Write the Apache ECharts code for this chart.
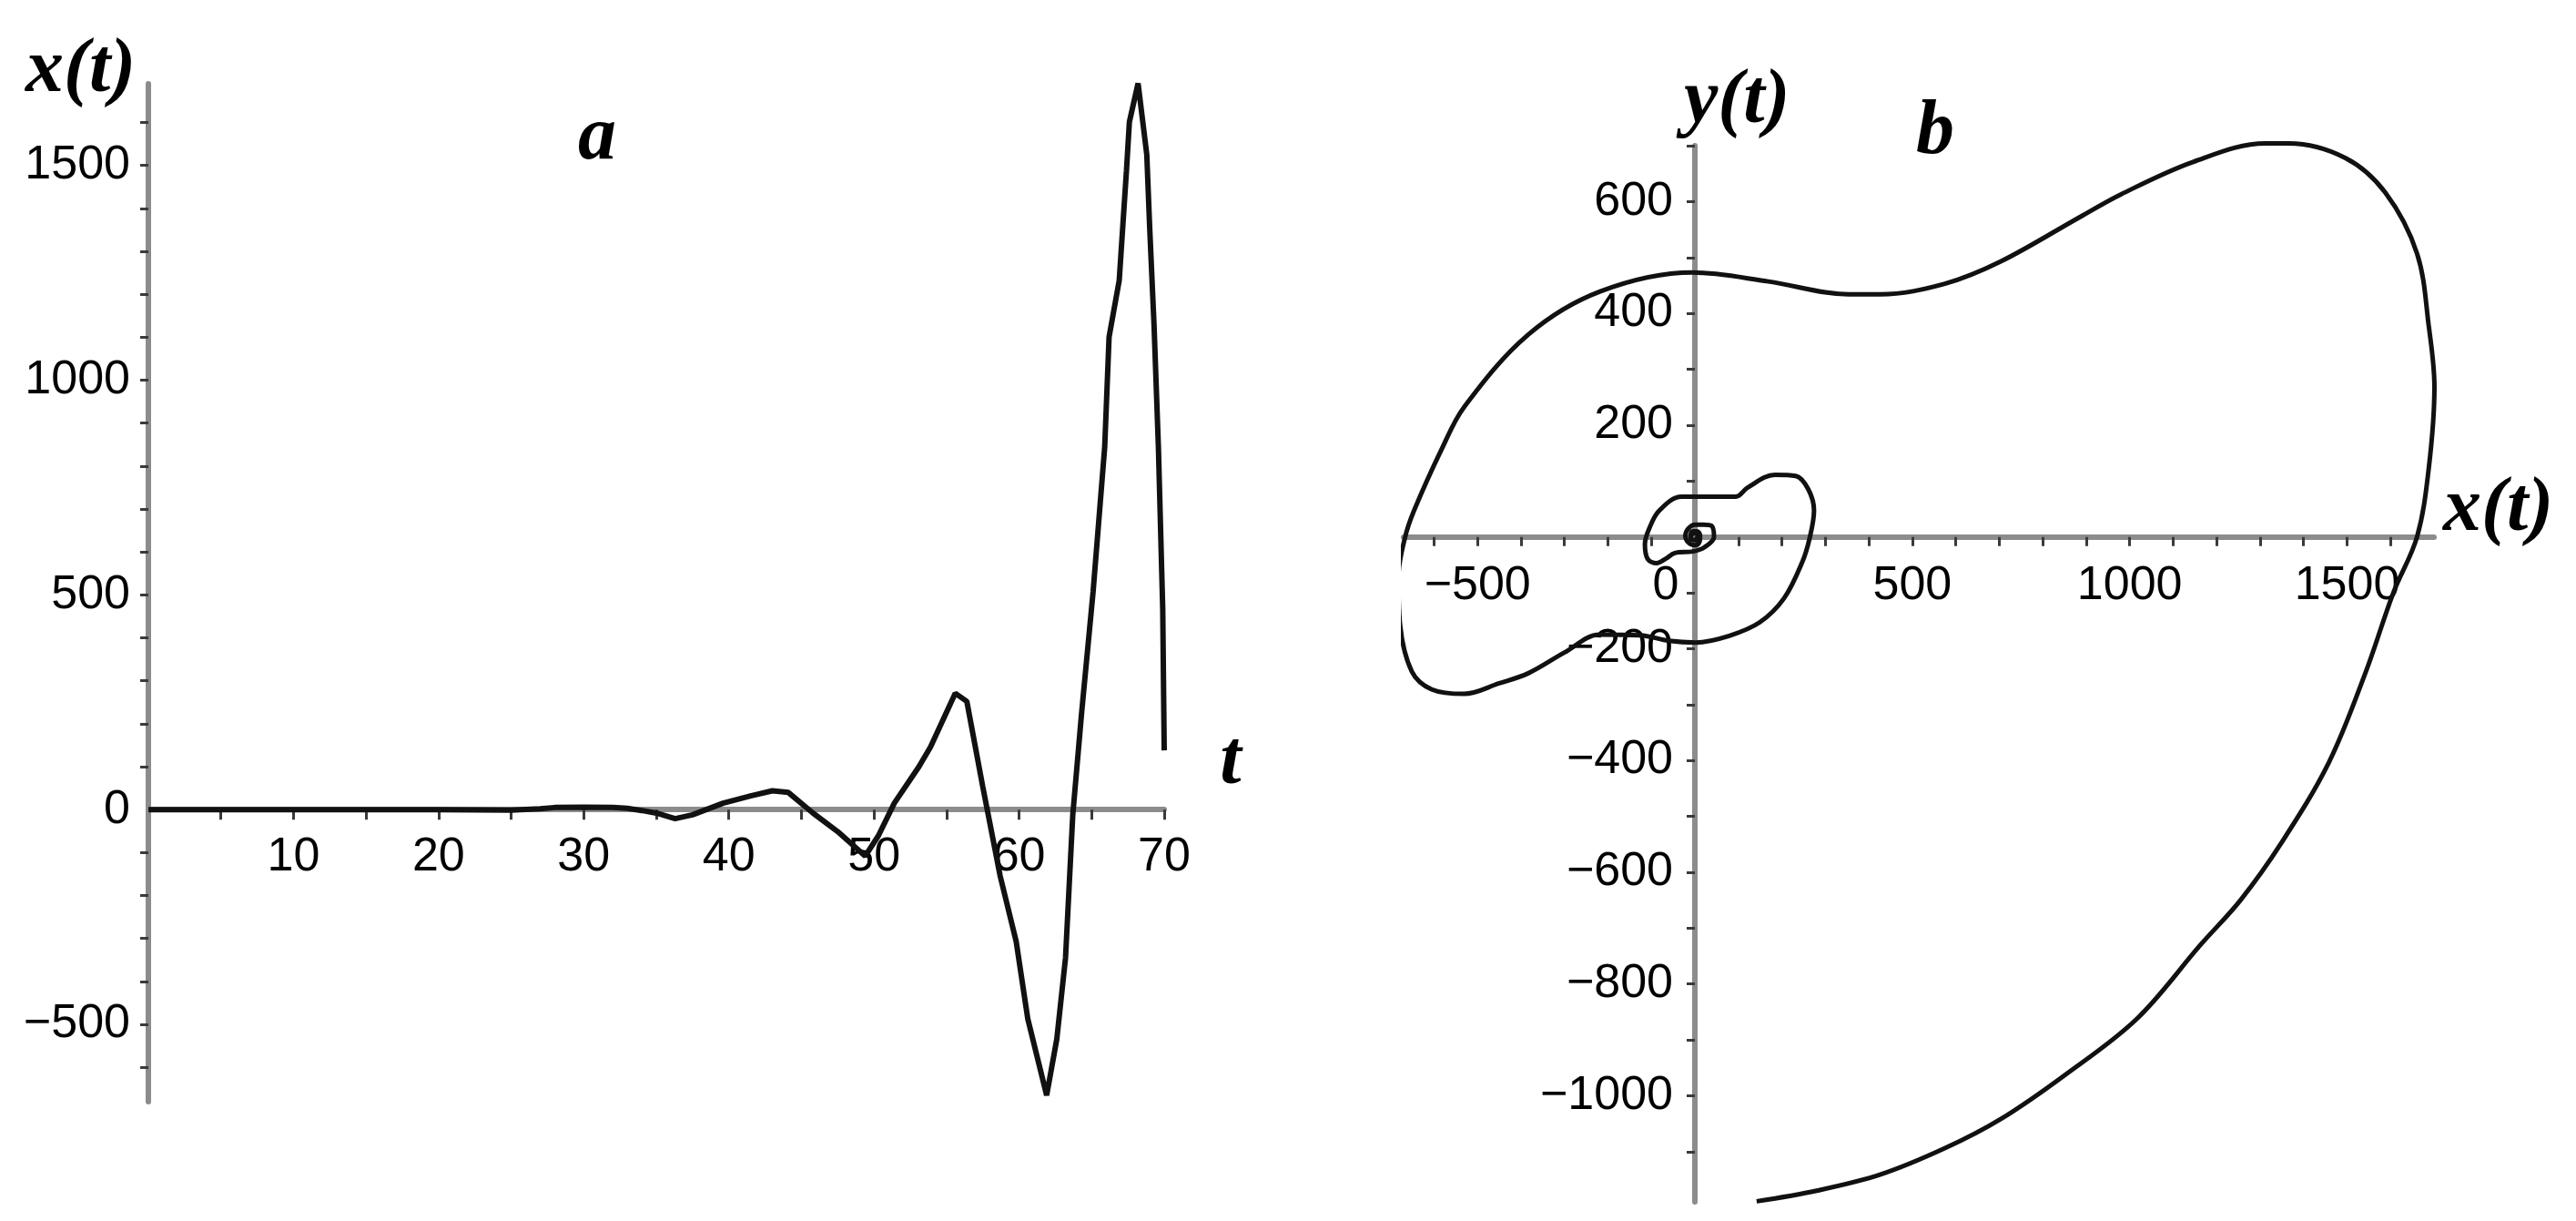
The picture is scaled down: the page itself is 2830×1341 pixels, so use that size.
<!DOCTYPE html>
<html><head><meta charset="utf-8">
<script src="https://cdn.jsdelivr.net/npm/echarts@6/dist/echarts.min.js"></script>
<style>html,body{margin:0;padding:0;background:#fff}#c{width:2830px;height:1341px}</style>
</head><body><div id="c"></div>
<script>
// Panel a: x(t) versus t
const tValues = [0, 5, 10, 15, 20, 25, 27, 28, 30, 32, 33, 34, 35, 36.3, 37.5, 39.6, 41.5, 43.0, 44.1, 45.8, 47.5, 49.4, 50.3, 51.4, 53.1, 53.9, 55.6, 56.4, 57.5, 58.7, 59.8, 60.6, 61.9, 62.6, 63.2, 63.7, 64.3, 65.1, 65.9, 66.2, 66.9, 67.4, 67.6, 68.2, 68.8, 69.0, 69.3, 69.6, 69.9, 70.0];
const xValues = [0, 0, 0, 0, 0, -1, 2, 5, 6, 5, 3, -2, -8, -21, -12, 15, 32, 44, 40, -8, -51, -108, -61, 15, 100, 146, 271, 252, 53, -155, -307, -487, -665, -534, -345, -12, 222, 507, 844, 1100, 1232, 1488, 1601, 1691, 1525, 1355, 1128, 844, 465, 138];

// Panel b: phase trajectory (x(t), y(t))
const phaseX = [0, 1, -1, -3, -1, 3, 5, 2, -6, -10, -5, 5, 12, 10, 0, -15, -22, -15, 0, 20, 38, 44, 23, -4, -46, -67, -88, -109, -115, -105, -82, -31, 94, 121, 184, 232, 261, 274, 264, 247, 205, 149, 79, 2, -60, -126, -220, -300, -383, -450, -531, -605, -651, -678, -682, -667, -646, -583, -531, -383, -218, -6, 169, 353, 427, 575, 704, 887, 980, 1146, 1312, 1366, 1496, 1588, 1661, 1688, 1701, 1688, 1661, 1607, 1542, 1458, 1347, 1255, 1163, 1017, 851, 703, 575, 427, 280, 142];
const phaseY = [0, -1, -2, 0, 3, 2, -2, -6, -5, 2, 10, 10, 2, -10, -15, -10, 2, 15, 22, 22, 20, 0, -18, -26, -29, -39, -47, -39, -13, 15, 47, 72, 72, 88, 111, 109, 85, 47, -2, -45, -110, -153, -177, -189, -186, -176, -175, -207, -244, -262, -281, -273, -241, -158, -72, -2, 47, 156, 232, 362, 439, 473, 457, 434, 434, 453, 493, 573, 613, 671, 704, 704, 678, 616, 507, 377, 268, 123, 0, -99, -244, -404, -550, -650, -730, -862, -963, -1042, -1094, -1141, -1170, -1189];

// Tick labels and tick positions
const aXLabels = [10, 20, 30, 40, 50, 60, 70];
const aXTicks = [5, 10, 15, 20, 25, 30, 35, 40, 45, 50, 55, 60, 65, 70];
const aYLabels = [-500, 0, 500, 1000, 1500];
const aYTicks = [-600, -500, -400, -300, -200, -100, 100, 200, 300, 400, 500, 600, 700, 800, 900, 1000, 1100, 1200, 1300, 1400, 1500, 1600];
const bXLabels = [-500, 0, 500, 1000, 1500];
const bXTicks = [-600, -500, -400, -300, -200, -100, 100, 200, 300, 400, 500, 600, 700, 800, 900, 1000, 1100, 1200, 1300, 1400, 1500, 1600];
const bYLabels = [-1000, -800, -600, -400, -200, 200, 400, 600];
const bYTicks = [-1100, -1000, -900, -800, -700, -600, -500, -400, -300, -200, -100, 100, 200, 300, 400, 500, 600, 700];

// axis ranges
const aT = [0, 70], aX = [-680, 1690];
const bX = [-670, 1700], bY = [-1190, 700];

const LABEL_FONT = '"Liberation Sans", Arial, sans-serif';
const TITLE_FONT = 'bold italic 84px "Liberation Serif", "Times New Roman", serif';
const fmt = v => (v < 0 ? '\u2212' + (-v) : '' + v);

const axisLineStyle = { color: '#8c8c8c', width: 6 };
const tickStyle = { color: '#3a3a3a', width: 3 };
const labelBase = { color: '#000', fontSize: 52, fontFamily: LABEL_FONT };

const gA = { left: 163, top: 92, width: 1116, height: 1118 };
const gB = { left: 1542, top: 160, width: 1132, height: 1160 };
// offsets that place each axis through the other axis' zero
const offAx = -gA.height * (0 - aX[0]) / (aX[1] - aX[0]);
const offBx = -gB.height * (0 - bY[0]) / (bY[1] - bY[0]);
const offBy = -gB.width * (0 - bX[0]) / (bX[1] - bX[0]);

function makeAxis(opts) {
  return Object.assign({
    type: 'value',
    splitLine: { show: false },
    axisLine: { show: true, onZero: false, lineStyle: axisLineStyle },
  }, opts);
}

const chart = echarts.init(document.getElementById('c'), null, { renderer: 'canvas' });

chart.setOption({
  backgroundColor: '#fff',
  animation: false,
  grid: [gA, gB],
  xAxis: [
    makeAxis({
      gridIndex: 0, min: aT[0], max: aT[1], position: 'bottom', offset: offAx,
      axisTick: { show: true, customValues: aXTicks, length: 11, lineStyle: tickStyle },
      axisLabel: Object.assign({ customValues: aXLabels, margin: 26, formatter: fmt }, labelBase)
    }),
    makeAxis({
      gridIndex: 1, min: bX[0], max: bX[1], position: 'bottom', offset: offBx,
      axisTick: { show: true, customValues: bXTicks, length: 10, lineStyle: tickStyle },
      axisLabel: Object.assign({
        customValues: bXLabels, margin: 28,
        formatter: v => (v === 0 ? '{z|0}' : fmt(v)),
        rich: { z: Object.assign({ padding: [0, 64, 0, 0] }, labelBase) }
      }, labelBase)
    })
  ],
  yAxis: [
    makeAxis({
      gridIndex: 0, min: aX[0], max: aX[1], position: 'left',
      axisTick: { show: true, customValues: aYTicks, length: 9, lineStyle: tickStyle },
      axisLabel: Object.assign({ customValues: aYLabels, margin: 20, formatter: fmt }, labelBase)
    }),
    makeAxis({
      gridIndex: 1, min: bY[0], max: bY[1], position: 'left', offset: offBy,
      axisTick: { show: true, customValues: bYTicks, length: 9, lineStyle: tickStyle },
      axisLabel: Object.assign({ customValues: bYLabels, margin: 24, formatter: fmt }, labelBase)
    })
  ],
  series: [
    {
      type: 'line', xAxisIndex: 0, yAxisIndex: 0,
      data: tValues.map((t, i) => [t, xValues[i]]),
      showSymbol: false, clip: false, smooth: false,
      lineStyle: { color: '#111', width: 6 }
    },
    {
      type: 'line', xAxisIndex: 1, yAxisIndex: 1,
      data: phaseX.map((x, i) => [x, phaseY[i]]),
      showSymbol: false, clip: false, smooth: 0.35,
      lineStyle: { color: '#111', width: 5 }
    }
  ],
  graphic: [
    { type: 'text', x: 28, y: 78, style: { text: 'x(t)', font: TITLE_FONT, fill: '#000', textAlign: 'left', textVerticalAlign: 'middle' } },
    { type: 'text', x: 656, y: 152, style: { text: 'a', font: TITLE_FONT, fill: '#000', textAlign: 'center', textVerticalAlign: 'middle' } },
    { type: 'text', x: 1352, y: 838, style: { text: 't', font: TITLE_FONT, fill: '#000', textAlign: 'center', textVerticalAlign: 'middle' } },
    { type: 'text', x: 1850, y: 112, style: { text: 'y(t)', font: TITLE_FONT, fill: '#000', textAlign: 'left', textVerticalAlign: 'middle' } },
    { type: 'text', x: 2126, y: 146, style: { text: 'b', font: TITLE_FONT, fill: '#000', textAlign: 'center', textVerticalAlign: 'middle' } },
    { type: 'text', x: 2684, y: 560, style: { text: 'x(t)', font: TITLE_FONT, fill: '#000', textAlign: 'left', textVerticalAlign: 'middle' } }
  ]
});
</script>
</body></html>
